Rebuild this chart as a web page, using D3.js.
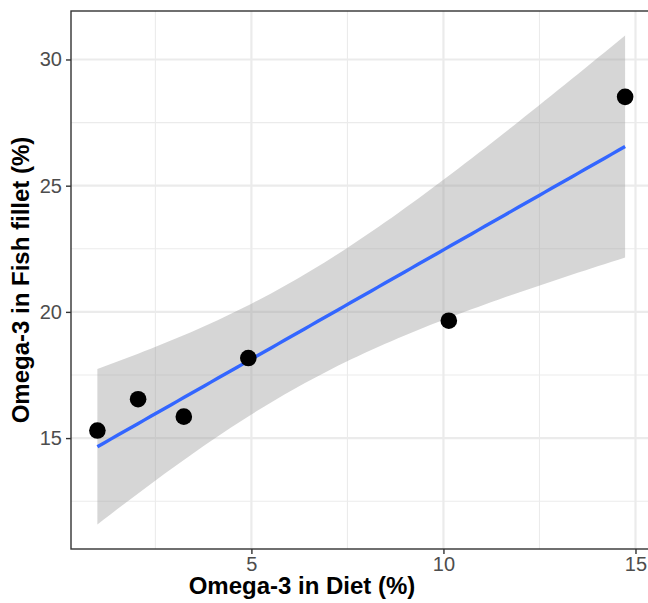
<!DOCTYPE html>
<html>
<head>
<meta charset="utf-8">
<script src="https://cdn.jsdelivr.net/npm/d3@7"></script>
<style>
  body { margin: 0; background: white; }
  svg { display: block; font-family: "Liberation Sans", Arial, sans-serif; }
</style>
</head>
<body>
<svg width="648" height="603"></svg>
<script>
// data
let dietOmega3 = [0.99, 2.05, 3.24, 4.92, 10.14, 14.73];
let filletOmega3 = [15.30, 16.54, 15.85, 18.17, 19.65, 28.52];
let xTicks = [5, 10, 15];
let yTicks = [15, 20, 25, 30];
let xMinor = [2.5, 7.5, 12.5];
let yMinor = [12.5, 17.5, 22.5, 27.5];
let xTitle = "Omega-3 in Diet (%)";
let yTitle = "Omega-3 in Fish fillet (%)";

let svg = d3.select("svg");
let panel = {left: 71, top: 11, right: 651.5, bottom: 549};

// lm fit + 95% confidence band, like geom_smooth(method = "lm")
let n = dietOmega3.length;
let mx = d3.mean(dietOmega3), my = d3.mean(filletOmega3);
let sxx = d3.sum(dietOmega3, function(x) {return (x - mx) * (x - mx)});
let sxy = d3.sum(dietOmega3, function(x, i) {return (x - mx) * (filletOmega3[i] - my)});
let slope = sxy / sxx;
let intercept = my - slope * mx;
let sse = d3.sum(dietOmega3, function(x, i) {
    let r = filletOmega3[i] - (intercept + slope * x);
    return r * r;
});
let s = Math.sqrt(sse / (n - 2));
let tq = 2.776445; // qt(0.975, df = 4)

let xMin = d3.min(dietOmega3), xMax = d3.max(dietOmega3);
let smooth = d3.range(80).map(function(i) {
    let x = xMin + (xMax - xMin) * i / 79;
    let fit = intercept + slope * x;
    let se = s * Math.sqrt(1 / n + (x - mx) * (x - mx) / sxx);
    return {x: x, y: fit, lo: fit - tq * se, hi: fit + tq * se};
});

function expand(lo, hi) {
    let pad = (hi - lo) * 0.05;
    return [lo - pad, hi + pad];
}
let yLo = Math.min(d3.min(filletOmega3), d3.min(smooth, function(d) {return d.lo}));
let yHi = Math.max(d3.max(filletOmega3), d3.max(smooth, function(d) {return d.hi}));

let x = d3.scaleLinear().domain(expand(xMin, xMax)).range([panel.left, panel.right]);
let y = d3.scaleLinear().domain(expand(yLo, yHi)).range([panel.bottom, panel.top]);

// grid
let grid = svg.append("g");
grid.selectAll(".minx").data(xMinor).enter().append("line")
    .attr("x1", x).attr("x2", x).attr("y1", panel.top).attr("y2", panel.bottom)
    .attr("stroke", "#ebebeb").attr("stroke-width", 1.1);
grid.selectAll(".miny").data(yMinor).enter().append("line")
    .attr("y1", y).attr("y2", y).attr("x1", panel.left).attr("x2", panel.right)
    .attr("stroke", "#ebebeb").attr("stroke-width", 1.1);
grid.selectAll(".majx").data(xTicks).enter().append("line")
    .attr("x1", x).attr("x2", x).attr("y1", panel.top).attr("y2", panel.bottom)
    .attr("stroke", "#ebebeb").attr("stroke-width", 2.2);
grid.selectAll(".majy").data(yTicks).enter().append("line")
    .attr("y1", y).attr("y2", y).attr("x1", panel.left).attr("x2", panel.right)
    .attr("stroke", "#ebebeb").attr("stroke-width", 2.2);

// confidence band and fitted line
svg.append("path").datum(smooth)
    .attr("fill", "#999999").attr("fill-opacity", 0.4)
    .attr("d", d3.area()
        .x(function(d) {return x(d.x)})
        .y0(function(d) {return y(d.lo)})
        .y1(function(d) {return y(d.hi)}));
svg.append("path").datum(smooth)
    .attr("fill", "none").attr("stroke", "#3366ff").attr("stroke-width", 3.4)
    .attr("d", d3.line()
        .x(function(d) {return x(d.x)})
        .y(function(d) {return y(d.y)}));

// points
svg.selectAll("circle").data(dietOmega3).enter().append("circle")
    .attr("cx", function(d) {return x(d)})
    .attr("cy", function(d, i) {return y(filletOmega3[i])})
    .attr("r", 8.3).attr("fill", "black");

// panel border
svg.append("rect")
    .attr("x", panel.left).attr("y", panel.top)
    .attr("width", panel.right - panel.left).attr("height", panel.bottom - panel.top)
    .attr("fill", "none").attr("stroke", "#333333").attr("stroke-width", 1.4);

// axes
let xAxis = svg.append("g").attr("transform", "translate(0," + panel.bottom + ")")
    .call(d3.axisBottom(x).tickValues(xTicks).tickSize(5).tickPadding(4));
let yAxis = svg.append("g").attr("transform", "translate(" + panel.left + ",0)")
    .call(d3.axisLeft(y).tickValues(yTicks).tickSize(5).tickPadding(4));
for (let ax of [xAxis, yAxis]) {
    ax.select(".domain").remove();
    ax.selectAll(".tick line").attr("stroke", "#333333").attr("stroke-width", 1.4);
    ax.selectAll(".tick text").attr("fill", "#4d4d4d").style("font-size", "20px")
        .style("font-family", "'Liberation Sans', Arial, sans-serif");
}
xAxis.selectAll(".tick text").attr("dy", null).attr("y", 22);

// titles
svg.append("text").text(xTitle)
    .attr("x", 302).attr("y", 594).attr("text-anchor", "middle")
    .style("font-size", "24px").style("font-weight", "bold");
svg.append("text").text(yTitle)
    .attr("transform", "translate(29," + (panel.top + panel.bottom) / 2 + ") rotate(-90)")
    .attr("text-anchor", "middle")
    .style("font-size", "24px").style("font-weight", "bold");
</script>
</body>
</html>
